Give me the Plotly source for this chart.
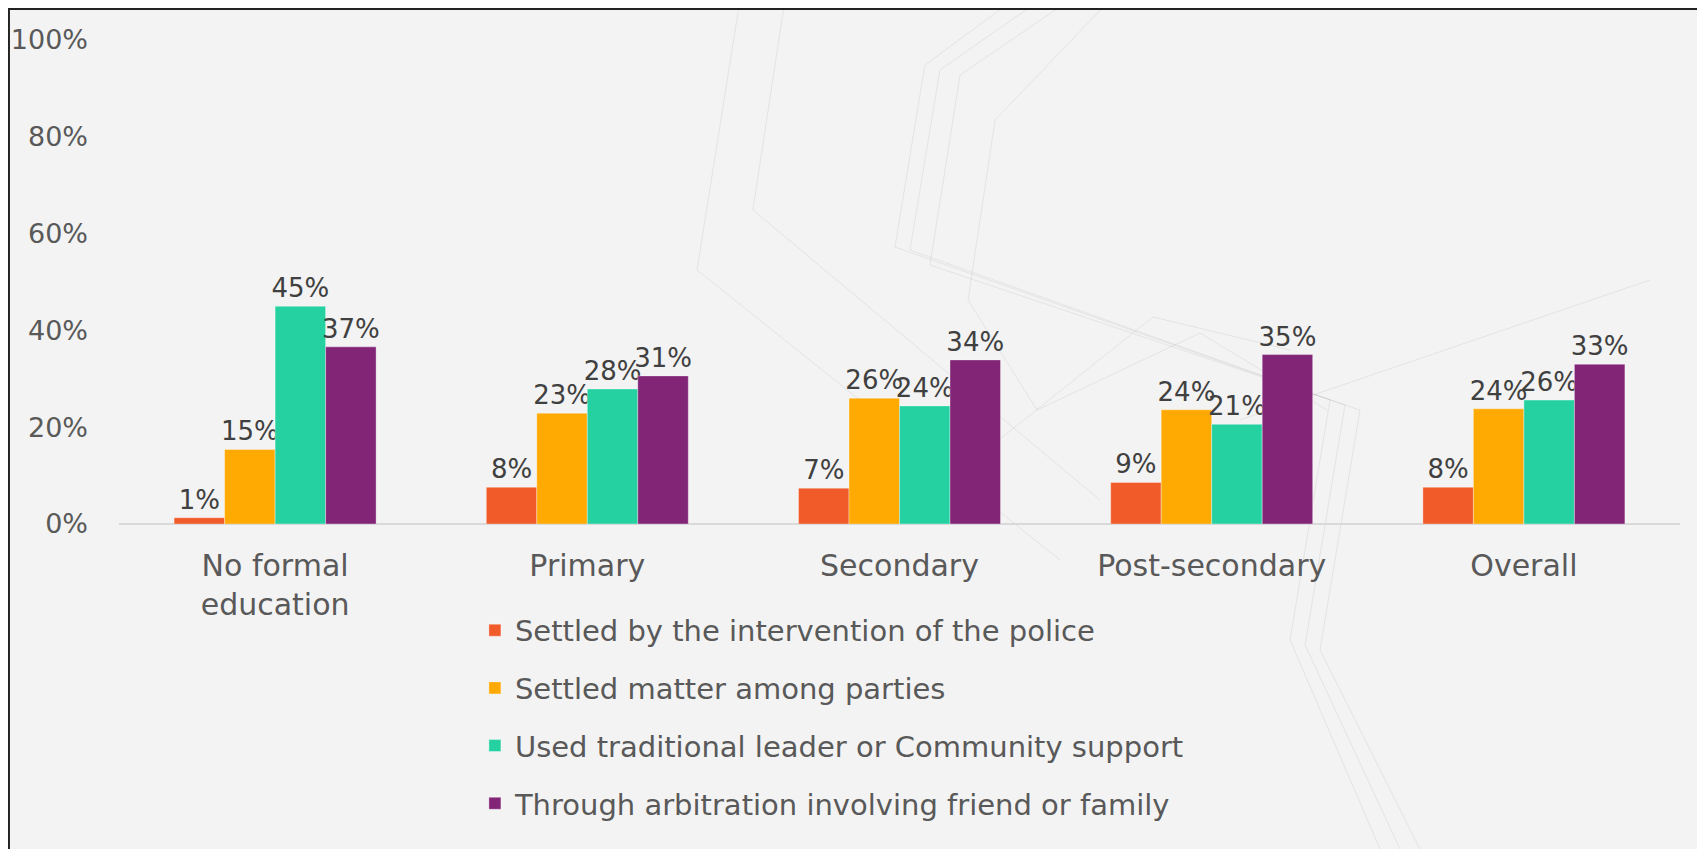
import plotly.graph_objects as go

# Categorias e séries
categorias = ["No formal<br>education", "Primary", "Secondary", "Post-secondary", "Overall"]

policia = [1.3, 7.6, 7.4, 8.6, 7.6]
entre_partes = [15.4, 22.9, 26.0, 23.6, 23.8]
lider_tradicional = [45.0, 27.9, 24.4, 20.6, 25.6]
arbitragem_familia = [36.6, 30.6, 33.9, 35.0, 33.0]

series = [
    ("Settled by the intervention of the police", policia, "#F15A29"),
    ("Settled matter among parties", entre_partes, "#FFA903"),
    ("Used traditional leader or Community support", lider_tradicional, "#25D1A1"),
    ("Through arbitration involving friend or family", arbitragem_familia, "#832577"),
]

FONTE = "DejaVu Sans"

# linhas decorativas do fundo (em pixels da página), só enfeite
linhas_fundo = [
    [(740, 0), (697, 270), (1060, 560)],
    [(785, 0), (753, 210), (1100, 500)],
    [(1013, 0), (925, 65), (895, 247), (1330, 400), (1290, 640), (1380, 849)],
    [(1040, 0), (940, 70), (910, 250), (1345, 405), (1305, 645), (1400, 849)],
    [(1070, 0), (960, 75), (930, 265), (1360, 410), (1320, 650), (1420, 849)],
    [(1110, 0), (995, 120), (968, 300), (1037, 410), (1200, 333), (1327, 410)],
    [(990, 447), (1153, 317), (1290, 350)],
    [(1240, 420), (1650, 280)],
]


def px_para_paper(px, py):
    return (px - 119) / 1561, (524 - py) / 484


formas = []
for linha in linhas_fundo:
    pts = [px_para_paper(px, py) for px, py in linha]
    caminho = "M " + " L ".join(f"{x:.4f},{y:.4f}" for x, y in pts)
    formas.append(
        dict(type="path", xref="paper", yref="paper", path=caminho,
             line=dict(color="rgba(120,120,120,0.13)", width=1), layer="below")
    )

# moldura
formas.append(
    dict(type="rect", xref="paper", yref="paper",
         x0=-0.0705, x1=1.015, y0=-0.70, y1=1.064,
         line=dict(color="#222222", width=2), layer="below")
)

fig = go.Figure()
for i, (nome, valores, cor) in enumerate(series):
    fig.add_trace(
        go.Bar(
            name=nome,
            x=categorias,
            y=valores,
            marker=dict(color=cor, line=dict(color="rgba(255,255,255,0.35)", width=1)),
            texttemplate="%{y:.0f}%",
            textposition="outside",
            constraintext="none",
            cliponaxis=False,
            textfont=dict(family=FONTE, size=26, color="#404040"),
            legendgroup=str(i),
        )
    )

fig.update_layout(
    width=1697,
    height=841,
    barmode="group",
    bargap=0.353,
    bargroupgap=0,
    paper_bgcolor="#f3f3f3",
    plot_bgcolor="rgba(0,0,0,0)",
    margin=dict(l=111, r=25, t=32, b=325),
    font=dict(family=FONTE, color="#595959"),
    showlegend=True,
    legend=dict(
        x=0.228,
        y=-0.167,
        xanchor="left",
        yanchor="top",
        orientation="v",
        font=dict(family=FONTE, size=29, color="#595959"),
        tracegroupgap=17,
        bgcolor="rgba(0,0,0,0)",
        itemwidth=30,
    ),
    xaxis=dict(
        automargin=False,
        showgrid=False,
        showline=False,
        ticks="",
        ticklabelstandoff=21,
        tickfont=dict(family=FONTE, size=30, color="#595959"),
    ),
    yaxis=dict(
        automargin=False,
        range=[0, 100],
        dtick=20,
        ticksuffix="%",
        showgrid=False,
        zeroline=True,
        zerolinecolor="#d9d9d9",
        zerolinewidth=2,
        showline=False,
        ticks="",
        ticklabelstandoff=30,
        tickfont=dict(family=FONTE, size=27, color="#595959"),
    ),
    shapes=formas,
)

fig.write_html("out.html")
